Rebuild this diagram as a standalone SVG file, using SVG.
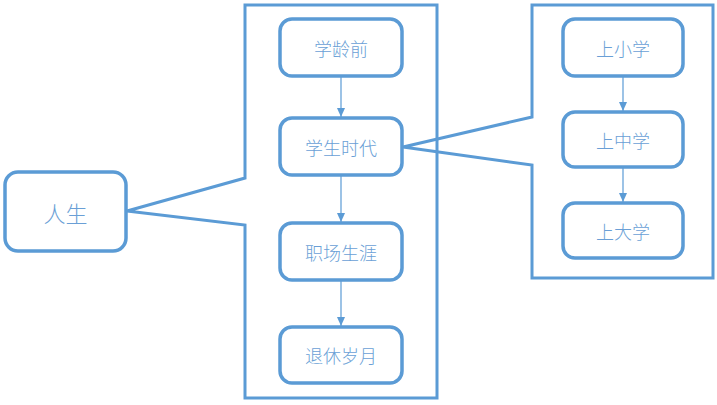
<svg xmlns="http://www.w3.org/2000/svg" width="717" height="405" viewBox="0 0 717 405">
<defs>
<style>
.box{fill:#fff;stroke:#5B9BD5;stroke-width:3.5}
.frame{fill:none;stroke:#5B9BD5;stroke-width:3;stroke-linejoin:miter}
.lbl{font-family:"Noto Sans CJK SC","Noto Sans",sans-serif;font-size:18px;fill:#6A9FD6;text-anchor:middle;dominant-baseline:central;font-weight:300}
.edge{stroke:#5B9BD5;stroke-width:1.2;fill:none}
</style>
<marker id="ah" markerWidth="10" markerHeight="10" refX="9" refY="5" orient="auto" markerUnits="userSpaceOnUse">
<path d="M0,1 L9,5 L0,9 Z" fill="#5B9BD5"/>
</marker>
</defs>
<rect width="717" height="405" fill="#fff"/>
<g id="frame-main">
<path class="frame" d="M245,5 H437 V398 H245 V225 L127,211 L245,178 Z"/>
</g>
<g id="frame-student">
<path class="frame" d="M532,5 H713 V278 H532 V165 L403,147 L532,117 Z"/>
</g>
<g id="connectors">
<line class="edge" x1="341" y1="77" x2="341" y2="117" marker-end="url(#ah)"/>
<line class="edge" x1="341" y1="176" x2="341" y2="222" marker-end="url(#ah)"/>
<line class="edge" x1="341" y1="281" x2="341" y2="326" marker-end="url(#ah)"/>
<line class="edge" x1="623" y1="77" x2="623" y2="111" marker-end="url(#ah)"/>
<line class="edge" x1="623" y1="168" x2="623" y2="202" marker-end="url(#ah)"/>
</g>
<g id="node-life">
<rect class="box" x="5" y="172" width="121" height="79" rx="13"/>
<text class="lbl" x="65.5" y="211.5" style="font-size:22px">人生</text>
</g>
<g id="node-preschool">
<rect class="box" x="280" y="19" width="122" height="57" rx="12"/>
<text class="lbl" x="341" y="47.5">学龄前</text>
</g>
<g id="node-student">
<rect class="box" x="280" y="118" width="122" height="57" rx="12"/>
<text class="lbl" x="341" y="146.5">学生时代</text>
</g>
<g id="node-career">
<rect class="box" x="280" y="223" width="122" height="57" rx="12"/>
<text class="lbl" x="341" y="251.5">职场生涯</text>
</g>
<g id="node-retire">
<rect class="box" x="280" y="327" width="122" height="56" rx="12"/>
<text class="lbl" x="341" y="355">退休岁月</text>
</g>
<g id="node-primary">
<rect class="box" x="563" y="19" width="120" height="57" rx="12"/>
<text class="lbl" x="623" y="47.5">上小学</text>
</g>
<g id="node-middle">
<rect class="box" x="563" y="112" width="120" height="55" rx="12"/>
<text class="lbl" x="623" y="139.5">上中学</text>
</g>
<g id="node-college">
<rect class="box" x="563" y="203" width="120" height="55" rx="12"/>
<text class="lbl" x="623" y="230.5">上大学</text>
</g>
</svg>
